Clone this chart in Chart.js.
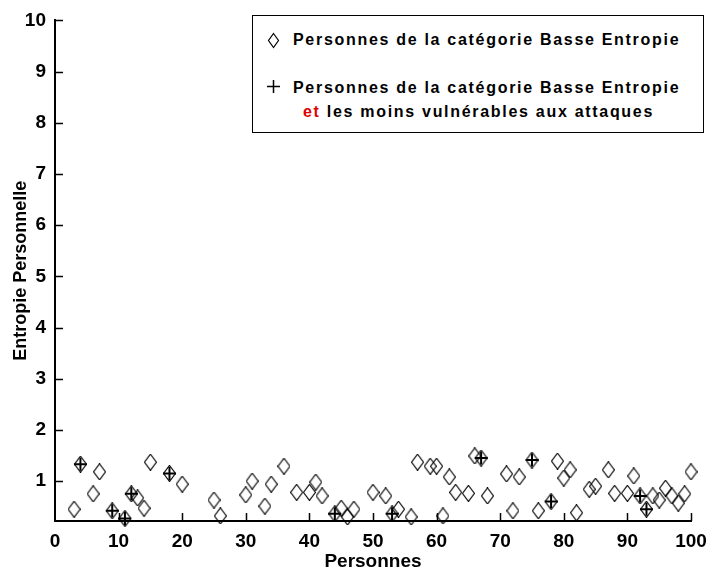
<!DOCTYPE html>
<html lang="fr">
<head>
    <meta charset="UTF-8">
    <title>Entropie Personnelle</title>
    <script src="https://cdn.jsdelivr.net/npm/chart.js"></script>
    <style>
        body { margin: 0; background: #fff; }
        #wrap { position: relative; width: 706px; height: 570px; }
        #legende {
            position: absolute; left: 252px; top: 15px; width: 452px; height: 118px;
            border: 1px solid #000; background: #fff; box-sizing: border-box;
            font-family: "Liberation Sans", Arial, sans-serif; font-weight: bold; font-size: 16px;
            letter-spacing: 1.7px; color: #000;
        }
        .ligne { position: absolute; left: 40px; white-space: nowrap; }
        .sym { position: absolute; left: 14px; }
        .rouge { color: #e00000; }
    </style>
</head>
<body>
<div id="wrap">
    <canvas id="graphique" width="706" height="570"></canvas>
    <div id="legende">
        <svg class="sym" style="top:16px" width="13" height="17"><path d="M6.5 1.5 L11.5 8.5 L6.5 15.5 L1.5 8.5 Z" fill="none" stroke="#000" stroke-width="1.2"/></svg>
        <span class="ligne" style="top:15px">Personnes de la catégorie Basse Entropie</span>
        <svg class="sym" style="top:64px" width="13" height="13"><path d="M6.5 0 V13 M0 6.5 H13" stroke="#000" stroke-width="1.5"/></svg>
        <span class="ligne" style="top:63px">Personnes de la catégorie Basse Entropie</span>
        <span class="ligne" style="top:87px; left:50px"><span class="rouge">et</span> les moins vulnérables aux attaques</span>
    </div>
</div>

<script>
    // Toutes les personnes de la catégorie Basse Entropie
    const personnes = [3, 4, 6, 7, 9, 11, 12, 13, 14, 15, 18, 20, 25, 26, 30, 31, 33, 34, 36, 38,
        40, 41, 42, 44, 45, 46, 47, 50, 52, 53, 54, 56, 57, 59, 60, 61, 62, 63, 65, 66,
        67, 68, 71, 72, 73, 75, 76, 78, 79, 80, 81, 82, 84, 85, 87, 88, 90, 91, 92, 93,
        94, 95, 96, 97, 98, 99, 100];
    const entropie = [0.45, 1.33, 0.75, 1.18, 0.42, 0.27, 0.75, 0.67, 0.47, 1.37, 1.15, 0.94, 0.63, 0.32, 0.73, 1.0, 0.51, 0.94, 1.29, 0.78,
        0.78, 0.98, 0.71, 0.36, 0.47, 0.30, 0.45, 0.78, 0.71, 0.36, 0.45, 0.30, 1.37, 1.29, 1.29, 0.32, 1.08, 0.78, 0.76, 1.49,
        1.45, 0.71, 1.14, 0.42, 1.08, 1.41, 0.42, 0.60, 1.39, 1.06, 1.22, 0.38, 0.84, 0.90, 1.22, 0.76, 0.76, 1.10, 0.71, 0.45,
        0.71, 0.63, 0.86, 0.71, 0.57, 0.75, 1.18];

    // Les moins vulnérables aux attaques
    const personnesPlus = [4, 9, 11, 12, 18, 44, 53, 67, 75, 78, 92, 93];
    const entropiePlus = [1.33, 0.42, 0.27, 0.75, 1.15, 0.36, 0.36, 1.45, 1.41, 0.60, 0.71, 0.45];

    const ticksX = [0, 10, 20, 30, 40, 50, 60, 70, 80, 90, 100];
    const ticksY = [1, 2, 3, 4, 5, 6, 7, 8, 9, 10];

    // losange allongé comme marqueur
    function losange() {
        const c = document.createElement('canvas');
        c.width = 13; c.height = 17;
        const g = c.getContext('2d');
        g.strokeStyle = '#000';
        g.lineWidth = 1.2;
        g.beginPath();
        g.moveTo(6.5, 0.5); g.lineTo(12.5, 8.5); g.lineTo(6.5, 16.5); g.lineTo(0.5, 8.5);
        g.closePath();
        g.stroke();
        return c;
    }

    // petites graduations vers l'intérieur
    const graduations = {
        id: 'graduations',
        afterDraw(chart) {
            const ctx = chart.ctx, a = chart.chartArea;
            const sx = chart.scales.x, sy = chart.scales.y;
            ctx.save();
            ctx.strokeStyle = '#000';
            ctx.lineWidth = 1.5;
            ctx.beginPath();
            ticksX.slice(1).forEach(v => {
                const px = Math.round(sx.getPixelForValue(v)) + 0.5;
                ctx.moveTo(px, a.bottom); ctx.lineTo(px, a.bottom - 8);
            });
            ticksY.forEach(v => {
                const py = Math.round(sy.getPixelForValue(v)) + 0.5;
                ctx.moveTo(a.left, py); ctx.lineTo(a.left + 8, py);
            });
            ctx.stroke();
            ctx.restore();
        }
    };

    const police = { family: '"Liberation Sans", Arial, sans-serif', weight: 'bold' };

    new Chart(document.getElementById('graphique'), {
        type: 'scatter',
        data: {
            datasets: [{
                label: 'Basse Entropie et moins vulnérables',
                data: personnesPlus.map((x, i) => ({ x: x, y: entropiePlus[i] })),
                pointStyle: 'cross',
                pointRadius: 6.5,
                borderColor: '#000',
                borderWidth: 2,
                clip: false
            }, {
                label: 'Basse Entropie',
                data: personnes.map((x, i) => ({ x: x, y: entropie[i] })),
                pointStyle: losange(),
                borderColor: '#000',
                clip: false
            }]
        },
        options: {
            responsive: false,
            animation: false,
            events: [],
            layout: { padding: { top: 19, right: 0 } },
            plugins: { legend: { display: false }, tooltip: { enabled: false } },
            scales: {
                x: {
                    min: 0, max: 100,
                    afterBuildTicks: s => { s.ticks = ticksX.map(v => ({ value: v })); },
                    afterFit: s => { s.height = 49; s.paddingRight = 15; s.paddingLeft = 0; },
                    grid: { drawOnChartArea: false, drawTicks: false },
                    border: { color: '#000', width: 2 },
                    ticks: { color: '#000', padding: 9, maxRotation: 0, font: { ...police, size: 19 } },
                    title: { display: true, text: 'Personnes', color: '#000', padding: { top: 4, bottom: -3 }, font: { ...police, size: 19 } }
                },
                y: {
                    min: 0.22, max: 10,
                    afterBuildTicks: s => { s.ticks = ticksY.map(v => ({ value: v })); },
                    afterFit: s => { s.width = 55; },
                    grid: { drawOnChartArea: false, drawTicks: false },
                    border: { color: '#000', width: 2 },
                    ticks: { color: '#000', padding: 9, font: { ...police, size: 19 } },
                    title: { display: true, text: 'Entropie Personnelle', color: '#000', padding: { top: 10, bottom: 0 }, font: { ...police, size: 18 } }
                }
            }
        },
        plugins: [graduations]
    });
</script>
</body>
</html>
